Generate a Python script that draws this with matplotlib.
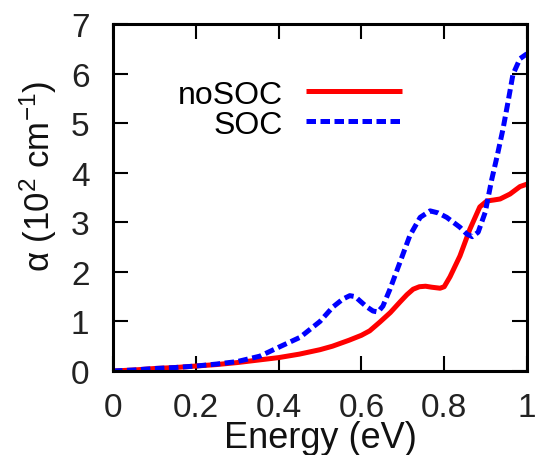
import matplotlib
matplotlib.use("Agg")
import matplotlib.pyplot as plt

# noSOC data
x_nosoc = [0.0, 0.05, 0.1, 0.15, 0.2, 0.25, 0.3, 0.35, 0.4, 0.45, 0.5, 0.53, 0.57, 0.6, 0.62, 0.645,
           0.67, 0.693, 0.71, 0.725, 0.74, 0.755, 0.77, 0.79, 0.8, 0.814, 0.838, 0.862, 0.886, 0.903,
           0.92, 0.935, 0.959, 0.983, 1.0]
y_nosoc = [0.0, 0.02, 0.05, 0.07, 0.1, 0.13, 0.17, 0.22, 0.27, 0.34, 0.43, 0.5, 0.62, 0.72, 0.81, 0.99,
           1.18, 1.39, 1.54, 1.65, 1.7, 1.71, 1.69, 1.67, 1.7, 1.9, 2.32, 2.86, 3.31, 3.43,
           3.45, 3.47, 3.57, 3.72, 3.77]

# SOC data
x_soc = [0.0, 0.05, 0.1, 0.15, 0.2, 0.25, 0.3, 0.355, 0.403, 0.452, 0.5, 0.531, 0.555, 0.572, 0.585,
         0.597, 0.612, 0.628, 0.64, 0.652, 0.669, 0.693, 0.717, 0.742, 0.766, 0.785, 0.806, 0.838,
         0.855, 0.868, 0.882, 0.899, 0.915, 0.928, 0.942, 0.954, 0.966, 0.983, 1.0]
y_soc = [0.0, 0.02, 0.05, 0.07, 0.1, 0.14, 0.19, 0.3, 0.49, 0.68, 1.0, 1.29, 1.45, 1.52, 1.5,
         1.41, 1.3, 1.21, 1.19, 1.31, 1.65, 2.19, 2.73, 3.1, 3.23, 3.19, 3.1, 2.9,
         2.76, 2.71, 2.8, 3.2, 3.87, 4.34, 4.88, 5.42, 5.98, 6.3, 6.4]

xticks = [0, 0.2, 0.4, 0.6, 0.8, 1]
xticklabels = ["0", "0.2", "0.4", "0.6", "0.8", "1"]
yticks = [0, 1, 2, 3, 4, 5, 6, 7]

plt.rcParams['font.family'] = ['Liberation Sans', 'DejaVu Sans']
plt.rcParams['mathtext.fontset'] = 'custom'
plt.rcParams['mathtext.rm'] = 'Liberation Sans'
plt.rcParams['mathtext.it'] = 'Liberation Sans'
plt.rcParams['mathtext.default'] = 'regular'

fig = plt.figure(figsize=(5.37, 4.56), dpi=100)
ax = fig.add_axes([113/537, 1-372/456, 414/537, 347/456])

ax.plot(x_nosoc, y_nosoc, color='#ff0000', lw=3.6, label='noSOC', solid_capstyle='butt',
        solid_joinstyle='round')
ax.plot(x_soc, y_soc, color='#0000ff', lw=3.6, linestyle=(0, (1.9, 0.9)), label='SOC',
        dash_capstyle='butt')

ax.set_xlim(0, 1)
ax.set_ylim(0, 7)
ax.set_xticks(xticks)
ax.set_xticklabels(xticklabels)
ax.set_yticks(yticks)
ax.tick_params(direction='in', top=True, right=True, length=11, width=1.5,
               labelsize=24, colors='black', labelcolor='#222222')
ax.tick_params(axis='x', pad=15)
ax.tick_params(axis='y', pad=17)
for s in ax.spines.values():
    s.set_linewidth(2.2)

ax.set_xlabel('Energy (eV)', fontsize=26, labelpad=-2, color='#111111')
ax.set_ylabel('α (10$^{2}$ cm$^{-1}$)', fontsize=25, color='#111111')
ax.yaxis.set_label_coords(-0.13, 0.565)

leg = ax.legend(loc='upper left', bbox_to_anchor=(0.157, 0.84), frameon=False, fontsize=23,
                markerfirst=False, handlelength=3.0, handletextpad=0.72, labelspacing=0.0,
                borderaxespad=0, borderpad=0)
for t in leg.get_texts():
    t.set_ha('right')

fig.savefig('out.png', dpi=100)
